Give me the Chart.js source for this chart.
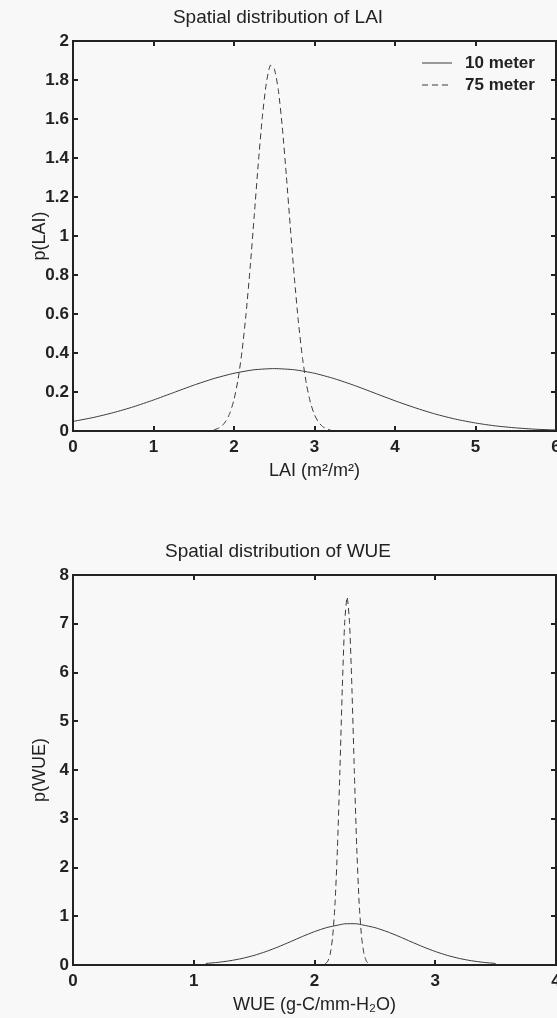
<!DOCTYPE html>
<html>
<head>
<meta charset="utf-8">
<script src="https://cdn.jsdelivr.net/npm/chart.js@4.4.0/dist/chart.umd.min.js"></script>
<style>
html, body { margin: 0; padding: 0; background: #f8f8f8; overflow: hidden; }
.box { position: absolute; left: 0; width: 557px; height: 534px; }
#laiBox { top: 0; }
#wueBox { top: 534px; }
</style>
</head>
<body>
<div class="box" id="laiBox"><canvas id="laiChart" width="557" height="534"></canvas></div>
<div class="box" id="wueBox"><canvas id="wueChart" width="557" height="534"></canvas></div>
<script>
const seriesLabels = ['10 meter', '75 meter'];

// LAI, 10 meter resolution
const laiX10 = [0, 0.25, 0.5, 0.75, 1, 1.25, 1.5, 1.75, 2, 2.25, 2.5, 2.75, 3, 3.25, 3.5, 3.75, 4, 4.25, 4.5, 4.75, 5, 5.25, 5.5, 5.75, 6];
const laiP10 = [0.049, 0.069, 0.094, 0.124, 0.159, 0.197, 0.235, 0.269, 0.296, 0.314, 0.320, 0.314, 0.296, 0.268, 0.233, 0.194, 0.155, 0.119, 0.087, 0.061, 0.041, 0.026, 0.016, 0.009, 0.005];

// LAI, 75 meter resolution
const laiX75 = [1.75, 1.8, 1.85, 1.9, 1.95, 2, 2.05, 2.1, 2.15, 2.2, 2.25, 2.3, 2.35, 2.4, 2.45, 2.5, 2.55, 2.6, 2.65, 2.7, 2.75, 2.8, 2.85, 2.9, 2.95, 3, 3.05, 3.1, 3.15, 3.2];
const laiP75 = [0.006, 0.013, 0.026, 0.051, 0.093, 0.161, 0.264, 0.410, 0.602, 0.835, 1.097, 1.364, 1.602, 1.780, 1.875, 1.858, 1.751, 1.558, 1.311, 1.044, 0.786, 0.560, 0.377, 0.240, 0.145, 0.083, 0.045, 0.023, 0.011, 0.005];

// WUE, 10 meter resolution
const wueX10 = [1.1, 1.2, 1.3, 1.4, 1.5, 1.6, 1.7, 1.8, 1.9, 2.0, 2.1, 2.2, 2.25, 2.35, 2.4, 2.5, 2.6, 2.7, 2.8, 2.9, 3.0, 3.1, 3.2, 3.3, 3.4, 3.5];
const wueP10 = [0.032, 0.054, 0.087, 0.134, 0.197, 0.277, 0.372, 0.477, 0.585, 0.685, 0.767, 0.821, 0.845, 0.845, 0.821, 0.767, 0.685, 0.585, 0.477, 0.372, 0.277, 0.197, 0.134, 0.087, 0.054, 0.032];

// WUE, 75 meter resolution
const wueX75 = [2.09, 2.11, 2.13, 2.15, 2.17, 2.19, 2.21, 2.23, 2.25, 2.27, 2.29, 2.31, 2.33, 2.35, 2.37, 2.39, 2.41, 2.43, 2.45];
const wueP75 = [0.023, 0.077, 0.225, 0.572, 1.258, 2.398, 3.961, 5.668, 7.028, 7.55, 7.028, 5.668, 3.961, 2.398, 1.258, 0.572, 0.225, 0.077, 0.023];

const laiTicksX = [0, 1, 2, 3, 4, 5, 6];
const laiTicksY = [0, 0.2, 0.4, 0.6, 0.8, 1, 1.2, 1.4, 1.6, 1.8, 2];
const wueTicksX = [0, 1, 2, 3, 4];
const wueTicksY = [0, 1, 2, 3, 4, 5, 6, 7, 8];

const ink = '#222';
const lineInk = '#3a3a3a';
const fontFamily = '"Liberation Sans", Arial, sans-serif';

// MATLAB style box with inward ticks on all four sides, plus a legend in the corner
const matlabFrame = {
    id: 'matlabFrame',
    afterDraw(chart, args, opts) {
        const ctx = chart.ctx;
        const a = chart.chartArea;
        const xs = chart.scales.x;
        const ys = chart.scales.y;
        ctx.save();
        ctx.strokeStyle = ink;
        ctx.lineWidth = 2;
        ctx.setLineDash([]);
        ctx.beginPath();
        xs.ticks.forEach(t => {
            const px = Math.round(xs.getPixelForValue(t.value));
            ctx.moveTo(px, a.bottom); ctx.lineTo(px, a.bottom - 5);
            ctx.moveTo(px, a.top); ctx.lineTo(px, a.top + 5);
        });
        ys.ticks.forEach(t => {
            const py = Math.round(ys.getPixelForValue(t.value));
            ctx.moveTo(a.left, py); ctx.lineTo(a.left + 5, py);
            ctx.moveTo(a.right, py); ctx.lineTo(a.right - 5, py);
        });
        ctx.stroke();
        ctx.strokeRect(a.left, a.top, a.right - a.left, a.bottom - a.top);

        if (opts.legend) {
            ctx.font = 'bold 17px ' + fontFamily;
            ctx.textBaseline = 'middle';
            ctx.textAlign = 'left';
            chart.data.datasets.forEach((ds, i) => {
                const yy = a.top + 22 + i * 22;
                ctx.strokeStyle = lineInk;
                ctx.lineWidth = 1;
                ctx.setLineDash(ds.borderDash || []);
                ctx.beginPath();
                ctx.moveTo(a.right - 134, yy);
                ctx.lineTo(a.right - 104, yy);
                ctx.stroke();
                ctx.fillStyle = ink;
                ctx.fillText(ds.label, a.right - 91, yy);
            });
        }
        ctx.restore();
    }
};

function makeChart(id, title, xTitle, yTitle, xTicks, yTicks, series, legend) {
    const ctx = document.getElementById(id).getContext('2d');
    return new Chart(ctx, {
        type: 'line',
        data: {
            datasets: series.map((s, i) => ({
                label: seriesLabels[i],
                data: s.x.map((v, k) => ({ x: v, y: s.y[k] })),
                borderColor: lineInk,
                borderWidth: 1,
                borderDash: i === 1 ? [6, 4] : [],
                pointRadius: 0,
                tension: 0.2,
                fill: false
            }))
        },
        options: {
            responsive: false,
            animation: false,
            layout: { padding: { left: 0, right: 1, top: 0, bottom: 0 } },
            plugins: {
                legend: { display: false },
                tooltip: { enabled: false },
                title: {
                    display: true,
                    text: title,
                    color: ink,
                    font: { family: fontFamily, size: 19, weight: 'normal' },
                    padding: { top: 6, bottom: 12.2 }
                },
                matlabFrame: { legend: legend }
            },
            scales: {
                x: {
                    type: 'linear',
                    min: xTicks[0],
                    max: xTicks[xTicks.length - 1],
                    afterBuildTicks: s => { s.ticks = xTicks.map(v => ({ value: v })); },
                    afterFit: s => { s.height = 103; s.paddingLeft = 0; s.paddingRight = 0; },
                    grid: { display: false, drawTicks: false },
                    border: { display: false },
                    ticks: {
                        padding: 6,
                        color: ink,
                        autoSkip: false,
                        maxRotation: 0,
                        font: { family: fontFamily, size: 17, weight: 'bold' },
                        callback: v => String(v)
                    },
                    title: {
                        display: true,
                        text: xTitle,
                        color: ink,
                        font: { family: fontFamily, size: 18, weight: 'normal' },
                        padding: { top: 0, bottom: 52 }
                    }
                },
                y: {
                    type: 'linear',
                    min: yTicks[0],
                    max: yTicks[yTicks.length - 1],
                    afterBuildTicks: s => { s.ticks = yTicks.map(v => ({ value: v })); },
                    afterFit: s => { s.width = 73; },
                    grid: { display: false, drawTicks: false },
                    border: { display: false },
                    ticks: {
                        padding: 4,
                        color: ink,
                        autoSkip: false,
                        font: { family: fontFamily, size: 17, weight: 'bold' },
                        callback: v => String(v)
                    },
                    title: {
                        display: true,
                        text: yTitle,
                        color: ink,
                        font: { family: fontFamily, size: 18, weight: 'normal' },
                        padding: { top: 29, bottom: 0 }
                    }
                }
            }
        },
        plugins: [matlabFrame]
    });
}

makeChart('laiChart', 'Spatial distribution of LAI', 'LAI (m²/m²)', 'p(LAI)',
    laiTicksX, laiTicksY,
    [{ x: laiX10, y: laiP10 }, { x: laiX75, y: laiP75 }], true);

makeChart('wueChart', 'Spatial distribution of WUE', 'WUE (g-C/mm-H₂O)', 'p(WUE)',
    wueTicksX, wueTicksY,
    [{ x: wueX10, y: wueP10 }, { x: wueX75, y: wueP75 }], false);
</script>
</body>
</html>
